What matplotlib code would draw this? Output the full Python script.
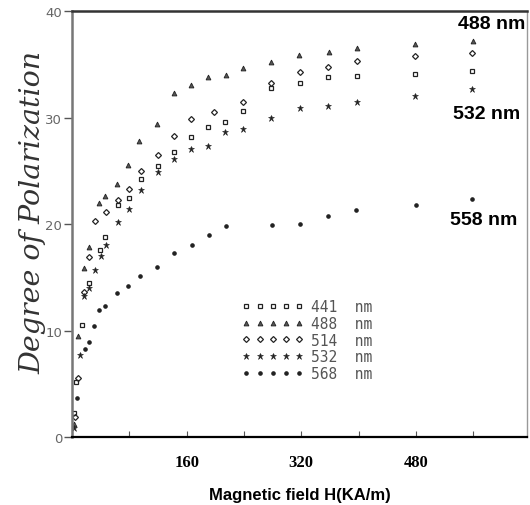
import matplotlib
matplotlib.use('Agg')
import matplotlib.pyplot as plt
from matplotlib.ticker import MultipleLocator, FixedLocator

# degree of polarization vs magnetic field, one series per wavelength
h_441 = [3, 6, 14, 24, 39, 46, 64, 80, 96, 120, 142, 166, 190, 214, 239, 278, 318, 358, 398, 479, 559]
p_441 = [2.3, 5.2, 10.5, 14.5, 17.6, 18.8, 21.8, 22.5, 24.2, 25.5, 26.8, 28.2, 29.1, 29.6, 30.6, 32.8, 33.3, 33.8, 33.9, 34.1, 34.4]

h_488 = [2, 8, 16, 24, 38, 46, 63, 78, 94, 119, 142, 166, 190, 215, 239, 278, 317, 359, 398, 479, 560]
p_488 = [1.2, 9.5, 15.9, 17.9, 22.0, 22.6, 23.8, 25.6, 27.8, 29.4, 32.3, 33.1, 33.8, 34.0, 34.7, 35.2, 35.9, 36.2, 36.5, 36.9, 37.2]

h_514 = [4, 8, 16, 24, 32, 48, 64, 80, 96, 120, 142, 166, 198, 239, 278, 318, 358, 398, 479, 559]
p_514 = [1.9, 5.6, 13.6, 16.9, 20.3, 21.1, 22.3, 23.3, 25.0, 26.5, 28.3, 29.9, 30.5, 31.5, 33.3, 34.3, 34.8, 35.3, 35.8, 36.1]

h_532 = [3, 11, 16, 24, 32, 40, 48, 64, 80, 96, 120, 142, 166, 190, 214, 239, 278, 318, 358, 398, 479, 559]
p_532 = [0.9, 7.7, 13.3, 14.0, 15.7, 17.0, 18.0, 20.2, 21.4, 23.2, 24.9, 26.1, 27.1, 27.3, 28.7, 28.9, 30.0, 30.9, 31.1, 31.5, 32.0, 32.7]

h_558 = [7, 18, 24, 31, 38, 46, 63, 78, 95, 119, 142, 167, 191, 215, 279, 318, 358, 397, 480, 559]
p_558 = [3.7, 8.3, 8.9, 10.4, 11.9, 12.3, 13.5, 14.2, 15.1, 16.0, 17.3, 18.0, 19.0, 19.8, 19.9, 20.0, 20.8, 21.3, 21.8, 22.4]

legend_labels = ['441  nm', '488  nm', '514  nm', '532  nm', '568  nm']
end_labels = ['488 nm', '532 nm', '558 nm']
x_ticks = [160, 320, 480]

fig = plt.figure(figsize=(5.3, 5.06), dpi=100)
ax = fig.add_axes([0.136, 0.134, 0.858, 0.842])

kw = dict(linestyle='none', color='#222222')
ax.plot(h_441, p_441, marker='s', markersize=3.2, fillstyle='none', markeredgewidth=0.9, label=legend_labels[0], **kw)
ax.plot(h_488, p_488, marker='^', markersize=3.5, markeredgewidth=0.6, markerfacecolor='#555555', label=legend_labels[1], **kw)
ax.plot(h_514, p_514, marker='D', markersize=3.0, fillstyle='none', markeredgewidth=0.9, label=legend_labels[2], **kw)
ax.plot(h_532, p_532, marker='*', markersize=4.6, markeredgewidth=0.4, label=legend_labels[3], **kw)
ax.plot(h_558, p_558, marker='o', markersize=2.3, label=legend_labels[4], **kw)

ax.set_xlim(0, 635)
ax.set_ylim(0, 40)

ax.xaxis.set_major_locator(FixedLocator(x_ticks))
ax.xaxis.set_minor_locator(MultipleLocator(80))
ax.yaxis.set_major_locator(MultipleLocator(10))
ax.tick_params(axis='x', which='both', direction='in', length=4, width=0.8, color='#555555', pad=12)
ax.tick_params(axis='y', direction='out', length=6, width=1, color='#555555', labelcolor='#666666', labelsize=9.5, pad=1)
for lab in ax.get_xticklabels():
    lab.set_family('Liberation Serif')
    lab.set_fontweight('bold')
    lab.set_fontsize(12)

ax.spines['left'].set_color('#777777')
ax.spines['left'].set_linewidth(1.8)
ax.spines['bottom'].set_linewidth(1.6)
ax.spines['top'].set_linewidth(1.8)
ax.spines['top'].set_color('#333333')
ax.spines['right'].set_color('#999999')
ax.spines['right'].set_linewidth(1.0)

ax.set_ylabel('Degree of Polarization', family='DejaVu Serif', style='italic',
              fontsize=20.5, color='#333333')
ax.yaxis.set_label_coords(-0.056, 0.53)
ax.set_xlabel('Magnetic field H(KA/m)', family='Liberation Sans', fontweight='bold',
              fontsize=12, labelpad=12)

# wavelength tags next to the right-hand ends
tag = dict(ha='center', va='center', fontsize=14, fontweight='bold', family='Liberation Sans')
ax.text(586, 38.8, end_labels[0], **tag)
ax.text(579, 30.4, end_labels[1], **tag)
ax.text(575, 20.4, end_labels[2], **tag)

leg = ax.legend(loc='upper left', bbox_to_anchor=(0.345, 0.355), frameon=False,
                numpoints=5, handlelength=4.2, handletextpad=0.5, labelspacing=0.12,
                prop={'family': 'DejaVu Sans Mono', 'size': 10.5})
for t in leg.get_texts():
    t.set_color('#555555')

fig.savefig('out.png', dpi=100)
